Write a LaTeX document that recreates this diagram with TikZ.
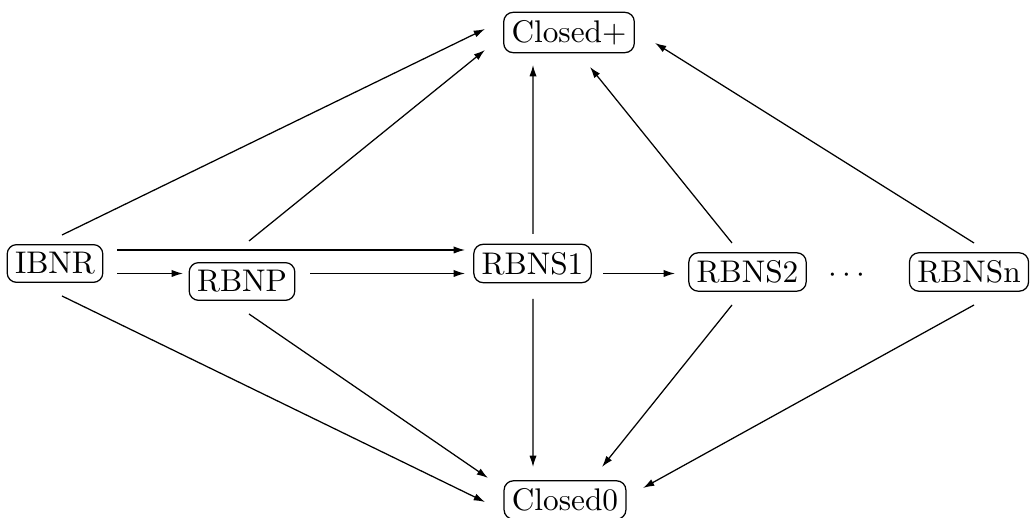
\documentclass[tikz,border=0pt]{standalone}
\usetikzlibrary{arrows.meta,calc}
\begin{document}
\begin{tikzpicture}[x=0.3195pt,y=-0.3195pt,
  box/.style={draw,rounded corners=3pt,inner sep=2.5pt,line width=0.4pt},
  arr/.style={-{Latex[length=3.6pt,width=2.3pt]},line width=0.4pt}]
\useasboundingbox (0,0) rectangle (1035,518);
\node[box] (IBNR) at (55,263.5) {IBNR};
\node[box] (RBNP) at (242,281.5) {RBNP};
\node[box] (RBNS1) at (532.5,263.5) {RBNS1};
\node[box] (RBNS2) at (747.5,272) {RBNS2};
\node[box] (RBNSn) at (969,272) {RBNSn};
\node[box] (Cp) at (569,32.5) {Closed+};
\node[box] (C0) at (565,500) {Closed0};
\node[anchor=base,inner sep=0pt] (dots) at ($(RBNS2.base)+(99.5,0)$) {$\cdots$};
% IBNR
\draw[arr] ($(IBNR)+(7,-28.5)$) -- ($(Cp)+(-84,-3.5)$);
\draw[arr] ($(IBNR)+(7,32.5)$) -- ($(C0)+(-80,2)$);
\draw[arr] ($(IBNR)+(62,-13.5)$) -- ($(RBNS1)+(-67.5,-13.5)$);
\draw[arr] ($(IBNR)+(62,10)$) -- ($(RBNP)+(-59,-8)$);
% RBNP
\draw[arr] ($(RBNP)+(7,-40.5)$) -- ($(Cp)+(-84,17.5)$);
\draw[arr] ($(RBNP)+(7,32.5)$) -- ($(C0)+(-77,-22)$);
\draw[arr] ($(RBNP)+(68,-8)$) -- ($(RBNS1)+(-67.5,10)$);
% RBNS1
\draw[arr] ($(RBNS1)+(0.5,-29.5)$) -- ($(Cp)+(-36,32.5)$);
\draw[arr] ($(RBNS1)+(0.5,35.5)$) -- ($(C0)+(-32,-33)$);
\draw[arr] ($(RBNS1)+(70.5,10)$) -- ($(RBNS2)+(-72.5,1.5)$);
% RBNS2
\draw[arr] ($(RBNS2)+(-15.5,-29)$) -- ($(Cp)+(21,34.5)$);
\draw[arr] ($(RBNS2)+(-15.5,33)$) -- ($(C0)+(37,-33)$);
% RBNSn
\draw[arr] ($(RBNSn)+(5,-29)$) -- ($(Cp)+(86,10.5)$);
\draw[arr] ($(RBNSn)+(5,33)$) -- ($(C0)+(78,-12)$);
\end{tikzpicture}
\end{document}
